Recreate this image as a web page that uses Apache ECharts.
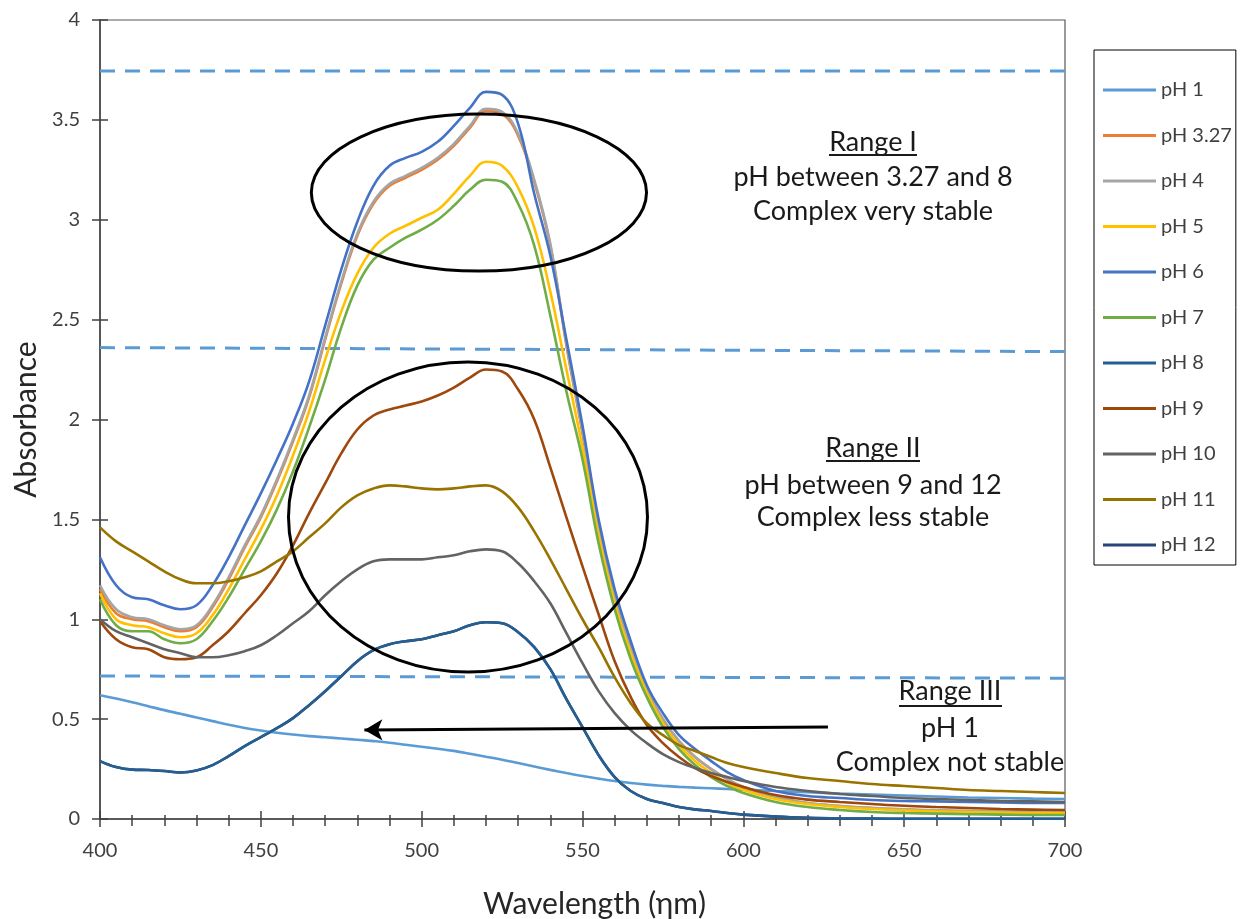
<!DOCTYPE html>
<html>
<head>
<meta charset="utf-8">
<script src="https://cdn.jsdelivr.net/npm/echarts/dist/echarts.min.js"></script>
<style>
  html, body { margin: 0; background: #fff; }
  #chart { width: 1242px; height: 919px; }
</style>
</head>
<body>
<div id="chart"></div>
<script>
// wavelengths (nm), 5 nm steps to 600 then 10 nm steps
var wavelengths = [400,405,410,415,420,425,430,435,440,445,450,455,460,465,470,475,480,485,490,495,
  500,505,510,515,520,525,530,535,540,545,550,555,560,565,570,575,580,585,590,595,600,
  610,620,630,640,650,660,670,680,690,700];

var ph1 = [0.62,0.603,0.585,0.565,0.545,0.527,0.508,0.49,0.472,0.456,0.443,0.432,0.423,0.415,0.409,0.403,0.397,0.39,0.382,0.372,
  0.362,0.352,0.341,0.327,0.312,0.297,0.28,0.263,0.246,0.23,0.215,0.202,0.19,0.18,0.172,0.166,0.161,0.157,0.154,0.15,0.147,
  0.14,0.134,0.128,0.123,0.118,0.113,0.108,0.105,0.102,0.10];
var ph327 = [1.15,1.03,1.00,0.99,0.96,0.94,0.96,1.06,1.20,1.36,1.51,1.69,1.89,2.11,2.40,2.68,2.92,3.08,3.17,3.21,
  3.25,3.30,3.37,3.46,3.545,3.53,3.42,3.19,2.87,2.37,1.93,1.46,1.11,0.86,0.65,0.50,0.39,0.31,0.25,0.20,0.16,
  0.11,0.08,0.065,0.055,0.048,0.043,0.04,0.037,0.035,0.035];
var ph4 = [1.17,1.05,1.01,1.00,0.97,0.95,0.97,1.07,1.21,1.37,1.52,1.70,1.90,2.12,2.41,2.69,2.93,3.09,3.18,3.22,
  3.26,3.31,3.38,3.47,3.555,3.54,3.43,3.20,2.88,2.38,1.94,1.47,1.12,0.86,0.65,0.50,0.39,0.31,0.25,0.20,0.16,
  0.11,0.08,0.065,0.055,0.048,0.043,0.04,0.037,0.035,0.035];
var ph5 = [1.13,1.00,0.97,0.96,0.93,0.91,0.93,1.02,1.15,1.30,1.45,1.62,1.82,2.04,2.30,2.54,2.73,2.86,2.93,2.97,
  3.01,3.05,3.13,3.22,3.29,3.27,3.16,2.96,2.64,2.25,1.86,1.42,1.08,0.83,0.63,0.48,0.37,0.29,0.23,0.18,0.145,
  0.10,0.075,0.06,0.05,0.043,0.038,0.035,0.032,0.03,0.03];
var ph6 = [1.31,1.17,1.11,1.10,1.07,1.05,1.07,1.17,1.31,1.47,1.63,1.80,1.98,2.19,2.47,2.75,2.99,3.17,3.27,3.31,
  3.34,3.39,3.47,3.56,3.64,3.625,3.48,3.13,2.82,2.40,1.97,1.50,1.15,0.89,0.67,0.53,0.42,0.35,0.29,0.235,0.195,
  0.14,0.115,0.105,0.095,0.09,0.088,0.085,0.083,0.08,0.08];
var ph7 = [1.10,0.97,0.94,0.94,0.90,0.88,0.90,0.99,1.11,1.25,1.39,1.55,1.74,1.96,2.20,2.46,2.67,2.80,2.86,2.91,
  2.95,3.00,3.07,3.15,3.20,3.19,3.08,2.87,2.52,2.14,1.80,1.38,1.05,0.80,0.61,0.46,0.35,0.27,0.21,0.165,0.13,
  0.085,0.06,0.045,0.035,0.03,0.027,0.024,0.022,0.02,0.02];
var ph8 = [0.29,0.26,0.247,0.245,0.24,0.233,0.243,0.27,0.315,0.365,0.41,0.455,0.505,0.57,0.64,0.715,0.79,0.845,0.875,0.89,
  0.90,0.92,0.94,0.97,0.985,0.98,0.935,0.86,0.75,0.60,0.46,0.32,0.21,0.14,0.10,0.08,0.06,0.048,0.04,0.03,0.022,
  0.012,0.006,0.003,0.002,0.001,0.001,0.001,0.001,0.001,0.001];
var ph9 = [0.99,0.90,0.86,0.85,0.81,0.80,0.81,0.87,0.94,1.03,1.12,1.23,1.37,1.53,1.68,1.83,1.95,2.02,2.05,2.07,
  2.09,2.12,2.16,2.21,2.25,2.24,2.15,2.00,1.76,1.51,1.265,1.025,0.79,0.61,0.47,0.38,0.31,0.255,0.215,0.185,0.16,
  0.12,0.097,0.085,0.075,0.066,0.06,0.055,0.05,0.047,0.045];
var ph10 = [1.00,0.94,0.91,0.88,0.85,0.83,0.81,0.81,0.82,0.84,0.87,0.92,0.98,1.04,1.12,1.19,1.25,1.29,1.30,1.30,
  1.30,1.31,1.32,1.34,1.35,1.34,1.28,1.19,1.08,0.93,0.78,0.64,0.53,0.445,0.38,0.325,0.285,0.255,0.23,0.21,0.19,
  0.16,0.14,0.125,0.115,0.105,0.10,0.095,0.09,0.088,0.085];
var ph11 = [1.46,1.39,1.34,1.29,1.24,1.20,1.18,1.18,1.19,1.21,1.24,1.29,1.34,1.41,1.48,1.56,1.62,1.655,1.67,1.665,
  1.655,1.65,1.655,1.665,1.67,1.64,1.56,1.44,1.30,1.15,1.00,0.86,0.71,0.58,0.48,0.42,0.37,0.34,0.31,0.28,0.26,
  0.23,0.205,0.19,0.175,0.165,0.155,0.145,0.14,0.135,0.13];
// pH 12 is not visible in the picture, it sits under pH 8
var ph12 = ph8;

var seriesNames = ['pH 1','pH 3.27','pH 4','pH 5','pH 6','pH 7','pH 8','pH 9','pH 10','pH 11','pH 12'];
var seriesValues = [ph1, ph327, ph4, ph5, ph6, ph7, ph8, ph9, ph10, ph11, ph12];
var seriesColors = ['#5B9BD5','#ED7D31','#A5A5A5','#FFC000','#4472C4','#70AD47','#255E91','#9E480E','#636363','#997300','#264478'];

// dashed range limits: [absorbance at 400 nm, absorbance at 700 nm]
var rangeLimits = [[3.745, 3.745], [2.36, 2.34], [0.716, 0.705]];

// ellipses in data units: [centre nm, centre abs, radius nm, radius abs]
var ellipses = [[517.8, 3.136, 52.1, 0.393], [514.4, 1.512, 55.8, 0.776]];
// arrow from / to in data units
var arrowFrom = [626.3, 0.461];
var arrowTo = [482.2, 0.446];

var FONT = 'Lato, "Open Sans", sans-serif';
var chart = echarts.init(document.getElementById('chart'));

var series = [];
// pH 12 first so pH 8 is drawn over it
var order = [10, 0, 1, 2, 3, 4, 5, 6, 7, 8, 9];
order.forEach(function (i) {
  series.push({
    name: seriesNames[i],
    type: 'line',
    data: wavelengths.map(function (w, k) { return [w, seriesValues[i][k]]; }),
    smooth: 0.4,
    showSymbol: false,
    symbol: 'none',
    color: seriesColors[i],
    lineStyle: { width: 2.6, color: seriesColors[i] },
    z: 3
  });
});

rangeLimits.forEach(function (r, i) {
  series.push({
    name: 'limit' + i,
    type: 'line',
    data: [[400, r[0]], [700, r[1]]],
    symbol: 'none',
    lineStyle: { width: 3, color: '#5B9BD5', type: [15, 10] },
    z: 2
  });
});

series.push({
  name: 'arrow',
  type: 'line',
  data: [],
  markLine: {
    silent: true,
    symbol: ['none', 'arrow'],
    symbolSize: [16, 18],
    label: { show: false },
    lineStyle: { color: '#000', width: 3, type: 'solid' },
    data: [[{ coord: arrowFrom }, { coord: arrowTo }]]
  },
  z: 4
});

var tickColor = '#404040';
var option = {
  animation: false,
  backgroundColor: '#fff',
  grid: {
    left: 100, right: 177, top: 20, bottom: 100,
    outerBoundsMode: 'none',
    containLabel: false,
    show: true, borderColor: '#595959', borderWidth: 1.2
  },
  legend: {
    data: seriesNames,
    orient: 'vertical',
    left: 1094,
    top: 50,
    icon: 'rect',
    itemWidth: 53,
    itemHeight: 3,
    itemGap: 25.5,
    padding: [30, 4, 10, 9],
    borderColor: '#000',
    borderWidth: 1,
    textStyle: { fontFamily: FONT, fontSize: 20, color: '#404040', lineHeight: 20 }
  },
  xAxis: [{
    type: 'value',
    min: 400, max: 700, interval: 50,
    position: 'bottom',
    name: 'Wavelength (ηm)',
    nameLocation: 'middle',
    nameGap: 70,
    nameTextStyle: { fontFamily: FONT, fontSize: 30, color: '#262626', padding: [0, 0, 0, 24] },
    axisLine: { show: true, lineStyle: { color: '#404040', width: 1.5 } },
    axisTick: { show: true, inside: false, length: 8, lineStyle: { color: tickColor, width: 1.5 } },
    minorTick: { show: true, splitNumber: 5, length: 7, lineStyle: { color: tickColor, width: 1.5 } },
    splitLine: { show: false },
    axisLabel: { fontFamily: FONT, fontSize: 20, color: tickColor, margin: 22 }
  }, {
    type: 'value',
    min: 400, max: 700, interval: 50,
    position: 'bottom',
    axisLine: { show: false },
    axisTick: { show: true, inside: true, length: 8, lineStyle: { color: tickColor, width: 1.5 } },
    minorTick: { show: true, splitNumber: 5, length: 4, lineStyle: { color: tickColor, width: 1.5 } },
    splitLine: { show: false },
    axisLabel: { show: false }
  }],
  yAxis: [{
    type: 'value',
    min: 0, max: 4, interval: 0.5,
    position: 'left',
    name: 'Absorbance',
    nameLocation: 'middle',
    nameGap: 55,
    nameTextStyle: { fontFamily: FONT, fontSize: 30, color: '#262626' },
    axisLine: { show: true, lineStyle: { color: '#404040', width: 1.5 } },
    axisTick: { show: true, inside: false, length: 8, lineStyle: { color: tickColor, width: 1.5 } },
    splitLine: { show: false },
    axisLabel: { fontFamily: FONT, fontSize: 20, color: tickColor, margin: 20 }
  }, {
    type: 'value',
    min: 0, max: 4, interval: 0.5,
    position: 'left',
    axisLine: { show: false },
    axisTick: { show: true, inside: true, length: 8, lineStyle: { color: tickColor, width: 1.5 } },
    splitLine: { show: false },
    axisLabel: { show: false }
  }],
  series: series
};
chart.setOption(option);

// annotations: ellipses from data units, texts in pixels
function px(p) { return chart.convertToPixel({ xAxisIndex: 0, yAxisIndex: 0 }, p); }
var graphics = [];
ellipses.forEach(function (e) {
  var c = px([e[0], e[1]]);
  var edge = px([e[0] + e[2], e[1] + e[3]]);
  graphics.push({
    type: 'ellipse',
    shape: { cx: c[0], cy: c[1], rx: Math.abs(edge[0] - c[0]), ry: Math.abs(edge[1] - c[1]) },
    style: { fill: 'none', stroke: '#000', lineWidth: 3 },
    z: 10
  });
});

var notes = [
  ['Range I', 873, 142], ['pH between 3.27 and 8', 873, 177], ['Complex very stable', 873, 211],
  ['Range II', 873, 448], ['pH between 9 and 12', 873, 485], ['Complex less stable', 873, 517],
  ['Range III', 950, 691], ['pH 1', 950, 728], ['Complex not stable', 950, 762]
];
notes.forEach(function (n) {
  graphics.push({
    type: 'text', x: n[1], y: n[2], z: 11,
    style: { text: n[0], fill: '#1a1a1a', font: '27px ' + FONT, align: 'center', verticalAlign: 'middle' }
  });
});
var underlines = [[829, 917, 155], [826, 920, 461], [899, 1002, 706]];
underlines.forEach(function (u) {
  graphics.push({
    type: 'line', z: 11,
    shape: { x1: u[0], y1: u[2], x2: u[1], y2: u[2] },
    style: { stroke: '#1a1a1a', lineWidth: 2 }
  });
});
chart.setOption({ graphic: graphics });
</script>
</body>
</html>
